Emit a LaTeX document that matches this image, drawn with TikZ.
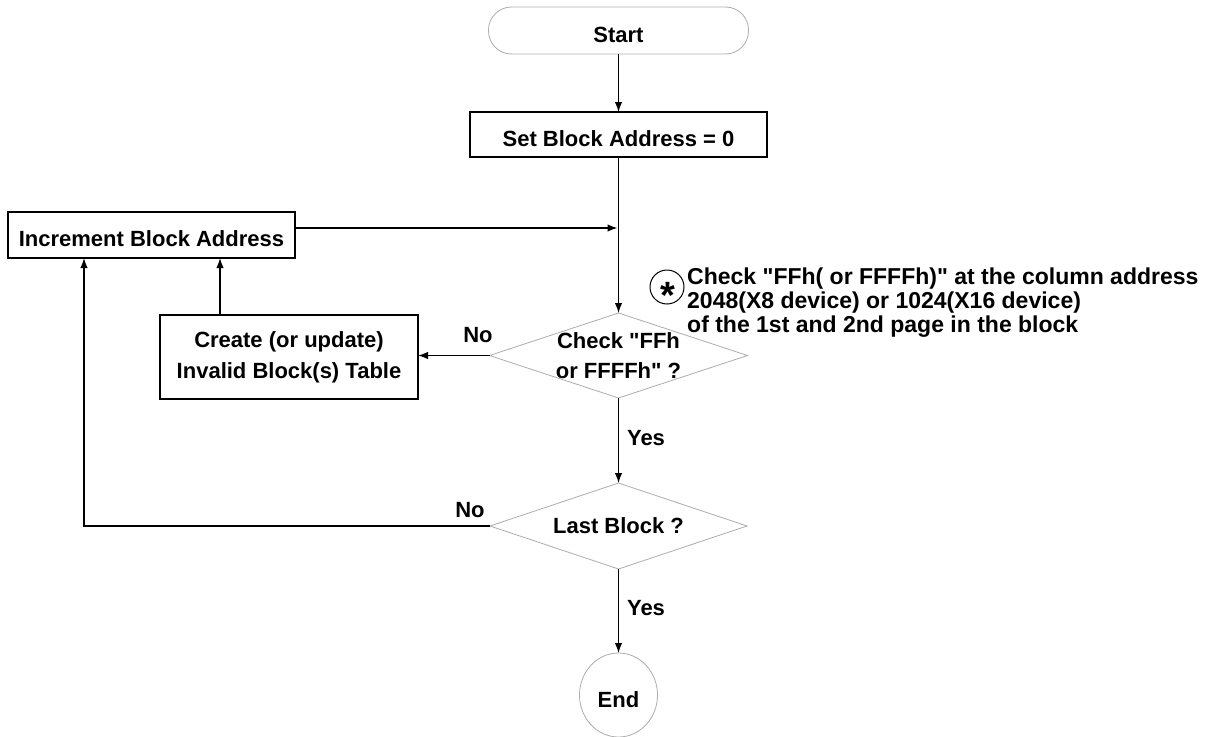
\documentclass[tikz,border=0pt]{standalone}
\usepackage{fontspec}
\setmainfont{Liberation Sans}[Ligatures=TeXOff]
\usetikzlibrary{shapes.geometric,arrows.meta}
\begin{document}
\begin{tikzpicture}[x=1pt,y=-1pt,
  every node/.style={font=\bfseries\fontsize{22}{26}\selectfont},
  box/.style={draw, line width=1.4pt, inner sep=0pt, outer sep=0pt},
  term/.style={draw=gray!65, line width=0.8pt, inner sep=0pt, outer sep=0pt},
  dec/.style={diamond, draw=gray!65, line width=0.8pt, inner sep=0pt, outer sep=0pt},
  conn/.style={line width=1.4pt, -{Latex[length=10pt,width=7.5pt]}},
  low/.style={text height=24pt, text depth=0pt},
  lbl/.style={inner sep=0pt}]
\useasboundingbox (0,0) rectangle (1206,736);

% main column
\node[term, low, rounded corners=23pt, minimum width=260pt, minimum height=47pt] (start) at (618.5,30.5) {Start};
\node[box, low, minimum width=297pt, minimum height=45pt] (setb) at (618.5,134.5) {Set Block Address = 0};
\node[box, text height=22pt, text depth=0pt, minimum width=287pt, minimum height=46pt] (inc) at (151.5,235) {Increment Block Address};
\node[box, minimum width=258pt, minimum height=84pt, align=center, font=\bfseries\fontsize{22}{31}\selectfont] (create) at (289,357) {Create (or update)\\Invalid Block(s) Table};
\node[dec, minimum width=258pt, minimum height=85pt] (chk) at (618.5,355.5) {};
\node[align=center, font=\bfseries\fontsize{22}{30}\selectfont] (chkt) at (chk.center) {Check "FFh\\or FFFFh" ?};
\node[dec, minimum width=257pt, minimum height=86pt] (last) at (618.5,526) {};
\node (lastt) at (last.center) {Last Block ?};
\node[term, low, ellipse, minimum width=78pt, minimum height=84pt] (end) at (618.5,695) {End};

% note
\node[circle, draw, line width=1pt, minimum size=34pt, inner sep=0pt] (ast) at (667,287) {};
\node[anchor=base, inner sep=0pt, font=\bfseries\fontsize{38}{38}\selectfont] (astt) at (667.5,308) {*};
\node[anchor=north west, align=left, inner sep=0pt, font=\bfseries\fontsize{23}{24}\selectfont] (note) at (687,268) {Check "FFh( or FFFFh)" at the column address\\2048(X8 device) or 1024(X16 device)\\of the 1st and 2nd page in the block};

% connectors
\coordinate (j1) at (617.5,228);
\coordinate (u1) at (220,0);
\coordinate (u2) at (84,0);
\draw[conn] (start) -- (setb);
\draw[conn] (setb) -- (chk);
\draw[conn] (inc.east |- j1) -- (j1);
\draw[conn] (chk.west) -- (chk.west -| create.east);
\draw[conn] (create.north -| u1) -- (inc.south -| u1);
\draw[conn] (chk) -- (last);
\draw[conn] (last.west) -| (inc.south -| u2);
\draw[conn] (last) -- (end);

% labels
\node[lbl] (no1) at (478,335) {No};
\node[lbl] (yes1) at (646,438) {Yes};
\node[lbl] (no2) at (470,510) {No};
\node[lbl] (yes2) at (646,608) {Yes};
\end{tikzpicture}
\end{document}
